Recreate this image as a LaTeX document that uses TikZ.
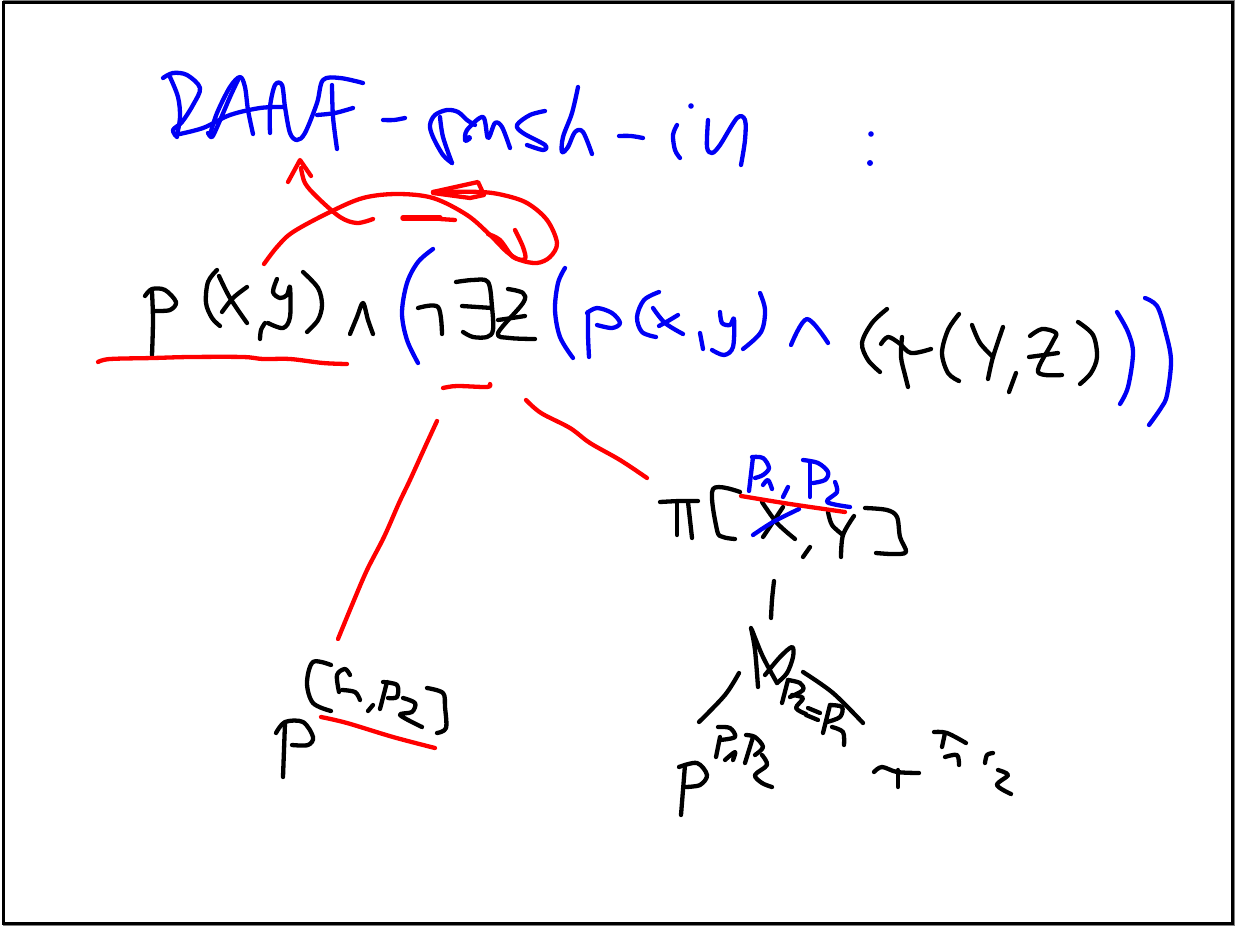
\documentclass[tikz,border=0pt]{standalone}
\definecolor{inkblue}{RGB}{0,0,245}
\definecolor{inkred}{RGB}{255,0,0}
\definecolor{inkblack}{RGB}{0,0,0}
\definecolor{pagegray}{RGB}{128,128,128}
\tikzset{
  stroke/.style={line width=4.3pt,line cap=round,line join=round},
  bk/.style={stroke,draw=inkblack},
  bl/.style={stroke,draw=inkblue},
  rd/.style={stroke,draw=inkred},
}
\newcommand{\pen}[2]{\draw[#1] plot[smooth,tension=0.55] coordinates {#2};}
\begin{document}
\begin{tikzpicture}[x=1pt,y=-1pt]
\useasboundingbox (0,0) rectangle (1235,926);
\fill[pagegray] (0,0) rectangle (1235,926);
\fill[white] (0,0) rectangle (3,926);
\draw[line width=3pt,draw=black,fill=white] (3,2) rectangle (1232,923);
% ---- title
\pen{bl}{(163,78)(173,73)(187,75)(200,88)(193,105)(182,122)(173,130)(177,137)}
\pen{bl}{(170,77)(178,97)(180,117)(177,135)}
\pen{bl}{(175,135)(203,128)(230,115)(260,108)(283,107)}
\pen{bl}{(210,135)(217,113)(230,87)(240,77)(245,87)(248,110)(253,134)}
\pen{bl}{(208,133)(212,137)(218,125)(230,97)(238,80)}
\pen{bl}{(270,133)(270,107)(275,85)(282,85)(285,107)(290,133)(297,140)(305,133)(317,103)(323,80)(340,78)(363,83)}
\pen{bl}{(332,85)(333,117)(337,149)}
\pen{bl}{(317,115)(335,113)(353,108)}
\pen{bl}{(383,120)(394,120)(405,118)}
\pen{bl}{(452,163)(443,155)(433,137)(430,125)(435,115)(447,110)(458,112)(467,120)(475,125)}
\pen{bl}{(452,163)(443,137)(440,117)}
\pen{bl}{(465,140)(467,130)(483,117)(488,138)(495,123)(502,127)(510,148)}
\draw[bl,line width=6pt] (466,140) -- (469,138);
\pen{bl}{(545,111)(530,115)(517,125)(523,133)(545,145)(543,150)(527,145)}
\pen{bl}{(578,87)(572,113)(563,137)(562,152)(568,147)(575,132)(583,132)(592,154)}
\pen{bl}{(619,136)(631,136)(643,138)}
\pen{bl}{(677,125)(673,135)(675,150)(680,158)}
\fill[inkblue] (691,106) circle (2.8pt);
\pen{bl}{(708,120)(707,147)(712,153)(720,145)(737,118)(745,120)(745,140)(741,165)}
\fill[inkblue] (871,134) circle (2.8pt);
\fill[inkblue] (870,163) circle (3pt);
% ---- red arrows above the formula
\pen{rd}{(264,264)(277,247)(293,232)(330,212)(363,198)(397,194)(433,198)(467,215)(490,235)(507,252)(520,260)(537,263)(550,257)(557,243)(547,220)(527,203)(503,195)(480,192)(433,192)}
\draw[rd] (433,192) -- (478,182) -- (484,195) -- (470,198) -- (433,193);
\pen{rd}{(488,234)(500,240)(513,257)(525,259)(523,247)(515,230)}
\pen{rd}{(373,219)(357,223)(340,217)(317,197)(305,183)(301,168)}
\draw[rd] (288,182) -- (300,160) -- (311,176);
\draw[rd,line width=5.5pt] (403,218) -- (440,218);
\draw[rd] (440,219) -- (455,220);
% ---- left formula
\pen{bk}{(152,355)(153,320)(152,292)}
\pen{bk}{(145,296)(152,289)(165,290)(176,302)(170,310)(155,311)}
\pen{bk}{(217,270)(208,282)(206,303)(212,318)(220,326)}
\pen{bk}{(219,276)(230,298)(247,323)}
\pen{bk}{(247,287)(233,298)(222,312)}
\pen{bk}{(265,323)(261,330)(260,339)}
\pen{bk}{(277,279)(273,292)(280,298)(287,295)(290,287)(290,317)(283,328)(268,323)}
\pen{bk}{(303,272)(318,288)(322,305)(318,320)(307,332)}
\pen{bk}{(350,334)(357,317)(363,303)(368,320)(373,334)}
\pen{bl}{(433,249)(418,262)(407,283)(402,313)(407,340)(418,363)}
\pen{bk}{(418,308)(438,307)(442,334)}
\pen{bk}{(456,282)(473,280)(488,282)(492,307)(493,330)(487,337)(473,337)(463,332)}
\pen{bk}{(462,306)(477,307)(492,308)}
\pen{bk}{(508,289)(523,293)(523,303)(498,333)(510,338)(535,339)}
\pen{bk}{(498,320)(512,318)(525,316)}
\pen{rd}{(98,362)(110,359)(153,358)(190,357)(243,357)(263,359)(290,359)(323,363)(347,364)}
\pen{rd}{(443,388)(457,386)(487,387)(490,384)}
% ---- right formula
\pen{bl}{(565,268)(558,283)(555,310)(560,337)(573,358)}
\pen{bl}{(589,357)(588,335)(588,312)}
\pen{bl}{(587,313)(597,308)(612,313)(620,323)(612,328)(597,325)}
\pen{bl}{(659,292)(644,300)(637,317)(642,332)(656,337)}
\pen{bl}{(653,308)(665,323)(683,334)}
\pen{bl}{(678,315)(668,321)(659,326)}
\pen{bl}{(700,333)(703,349)}
\pen{bl}{(720,312)(722,323)(730,325)(734,319)(733,347)(724,355)(712,350)}
\pen{bl}{(760,293)(765,310)(761,332)(743,349)}
\pen{bl}{(791,345)(807,319)(828,343)}
\pen{bk}{(887,309)(872,323)(862,343)(868,360)(880,372)}
\pen{bk}{(881,344)(888,337)(899,343)(911,353)(931,349)}
\pen{bk}{(902,337)(901,357)(905,375)(908,387)}
\pen{bk}{(959,314)(948,330)(942,353)(948,373)(959,381)}
\pen{bk}{(972,325)(980,343)(993,357)}
\pen{bk}{(1003,327)(993,357)(988,379)}
\pen{bk}{(1016,373)(1009,392)}
\pen{bk}{(1030,336)(1042,329)(1056,333)(1052,343)(1038,372)(1062,375)}
\pen{bk}{(1029,357)(1044,355)(1058,353)}
\pen{bk}{(1078,322)(1093,335)(1097,357)(1091,373)(1080,384)}
\pen{bl}{(1117,312)(1128,332)(1133,353)(1128,387)(1120,404)}
\pen{bl}{(1145,298)(1157,306)(1165,330)(1171,360)(1167,395)(1161,408)(1149,425)}
% ---- tree edges
\pen{rd}{(437,421)(425,447)(410,480)(399,503)(384,537)(367,570)(352,605)(338,639)}
\pen{rd}{(526,400)(541,413)(570,428)(590,443)(620,460)(647,478)}
% ---- P[p1,p2]
\pen{bk}{(283,777)(284,750)(285,723)}
\pen{bk}{(276,733)(285,722)(303,722)(313,737)(308,745)(292,745)}
\pen{bk}{(331,665)(313,662)(307,683)(313,703)(331,711)}
\pen{bk}{(339,692)(337,675)(345,669)(350,675)}
\pen{bk}{(342,690)(355,692)(360,700)}
\pen{bk}{(373,705)(368,711)}
\pen{bk}{(380,709)(387,682)}
\pen{bk}{(383,682)(397,685)(397,697)(388,698)}
\pen{bk}{(403,698)(415,703)(412,712)(400,715)(422,727)}
\pen{bk}{(427,688)(443,693)(445,707)(446,728)(437,733)}
\pen{rd}{(321,717)(347,723)(393,737)(435,748)}
% ---- pi[x,y]
\pen{bk}{(660,502)(680,501)(698,501)}
\pen{bk}{(677,502)(677,535)}
\pen{bk}{(688,502)(692,538)}
\pen{bk}{(740,492)(713,489)(717,530)(723,537)(735,539)}
\pen{bk}{(762,502)(777,523)(795,539)}
\pen{bk}{(783,507)(773,522)(763,537)}
\pen{bk}{(810,547)(803,557)}
\pen{bk}{(828,512)(832,525)(843,535)}
\pen{bk}{(854,516)(843,535)(841,557)}
\pen{bk}{(865,508)(887,510)(897,517)(900,537)(906,552)(893,554)(876,553)}
\pen{bl}{(749,491)(753,457)}
\pen{bl}{(752,457)(763,458)(769,468)(763,475)(755,478)}
\pen{bl}{(763,485)(768,480)(772,489)}
\pen{bl}{(788,487)(783,497)}
\pen{bl}{(810,497)(810,463)}
\pen{bl}{(803,460)(818,463)(828,472)(825,480)(813,483)}
\pen{bl}{(835,482)(837,492)(827,502)(850,507)}
\pen{bl}{(753,535)(773,522)(799,509)}
\pen{rd}{(741,496)(790,504)(845,512)}
% ---- join
\pen{bk}{(774,581)(772,600)(771,618)}
\pen{bk}{(751,628)(755,650)(758,687)}
\pen{bk}{(752,630)(763,657)(777,683)}
\pen{bk}{(765,675)(780,657)(792,647)(793,657)(787,673)(777,683)}
\pen{bk}{(739,673)(725,695)(699,722)}
\pen{bk}{(803,672)(833,693)(863,723)}
\pen{bk}{(782,703)(788,680)}
\pen{bk}{(788,680)(800,683)(803,690)(790,697)}
\pen{bk}{(792,695)(803,698)(796,708)(806,714)}
\pen{bk}{(808,708)(820,713)}
\pen{bk}{(806,715)(818,720)}
\pen{bk}{(823,733)(830,705)}
\pen{bk}{(830,705)(842,707)(840,717)(827,722)}
\pen{bk}{(832,727)(843,732)(844,745)}
% ---- P^{p1,p2}
\pen{bk}{(681,815)(683,790)(685,765)}
\pen{bk}{(679,767)(697,763)(707,775)(700,785)(685,787)}
\pen{bk}{(718,727)(730,728)(735,737)(720,740)}
\pen{bk}{(720,737)(716,757)}
\pen{bk}{(725,760)(735,752)(733,760)}
\pen{bk}{(746,735)(755,737)(763,747)(755,755)}
\pen{bk}{(753,737)(745,763)}
\pen{bk}{(762,755)(767,765)(755,775)(762,783)(772,787)}
% ---- r^{r1 r2}
\pen{bk}{(874,772)(882,767)(897,772)(919,773)}
\pen{bk}{(898,770)(898,787)}
\pen{bk}{(934,732)(947,733)(966,743)}
\pen{bk}{(945,733)(942,747)}
\pen{bk}{(945,757)(957,755)(959,765)}
\pen{bk}{(985,763)(987,755)(993,753)}
\pen{bk}{(998,770)(1008,775)(997,785)(1011,794)}
\end{tikzpicture}
\end{document}
